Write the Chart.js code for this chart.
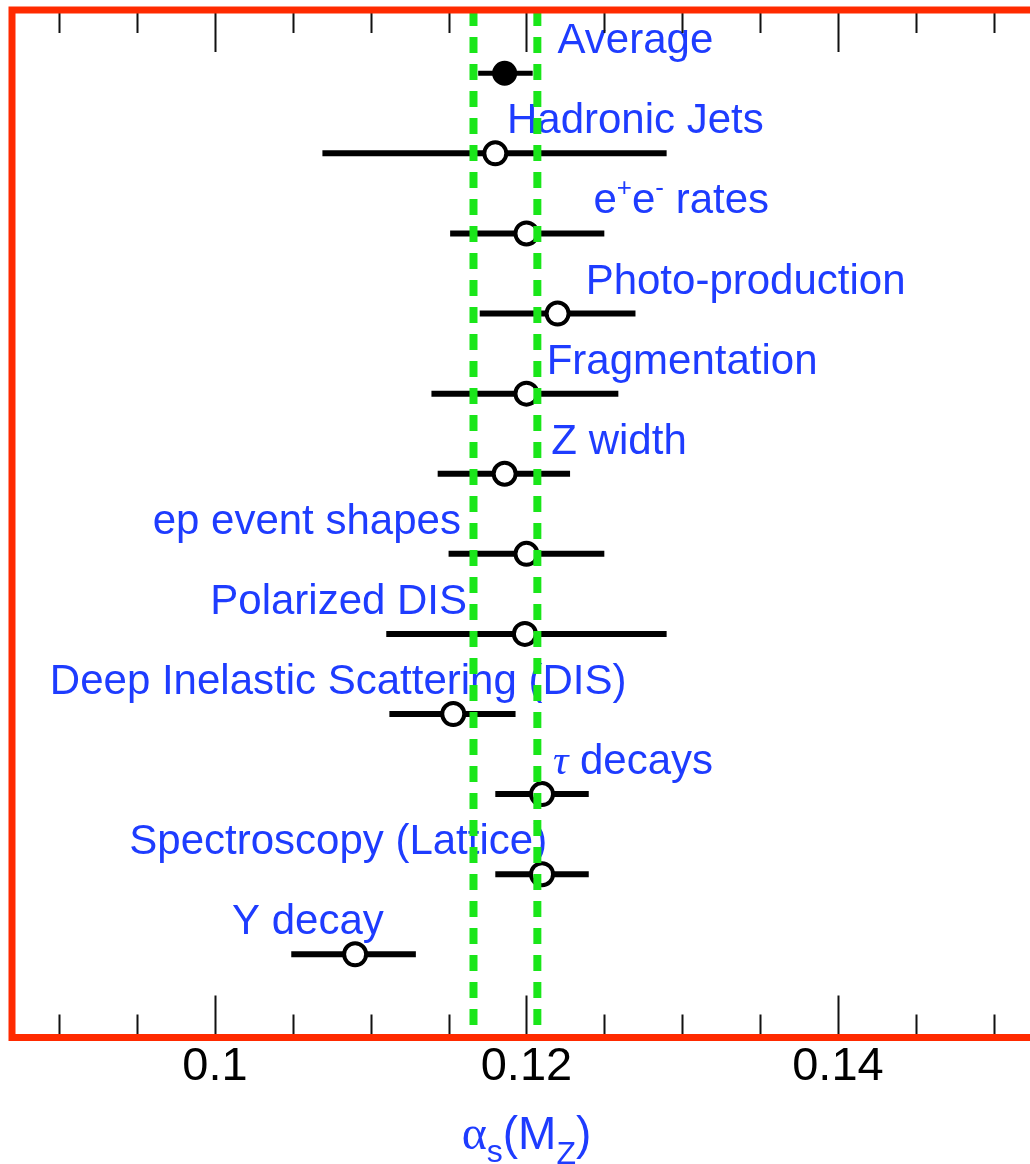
<!DOCTYPE html>
<html>
<head>
<meta charset="utf-8">
<script src="https://cdn.jsdelivr.net/npm/chart.js@4.4.0/dist/chart.umd.min.js"></script>
<style>
  html, body { margin: 0; padding: 0; background: #fff; overflow: hidden; }
</style>
</head>
<body>
<canvas id="chart" width="1030" height="1164"></canvas>
<script>
// measurements, top row first
const names = ["Average", "Hadronic Jets", "e+e- rates", "Photo-production", "Fragmentation", "Z width",
  "ep event shapes", "Polarized DIS", "Deep Inelastic Scattering (DIS)", "τ decays", "Spectroscopy (Lattice)", "Υ decay"];
const centers = [0.1186, 0.1180, 0.1200, 0.1220, 0.1200, 0.1186, 0.1200, 0.1199, 0.1153, 0.1210, 0.1210, 0.1090];
const lows    = [0.1169, 0.1069, 0.1151, 0.1170, 0.1139, 0.1143, 0.1150, 0.1110, 0.1112, 0.1180, 0.1180, 0.1049];
const highs   = [0.1204, 0.1290, 0.1250, 0.1270, 0.1259, 0.1228, 0.1250, 0.1290, 0.1193, 0.1240, 0.1240, 0.1129];
// where each name starts (in alpha_s units)
const labelX  = [0.1220, 0.11875, 0.1243, 0.1238, 0.1213, 0.1216, 0.0960, 0.0997, 0.0894, 0.1217, 0.0945, 0.1011];

const bandEdges = [0.1166, 0.1207]; // green dashed band
const tickLabels = [0.1, 0.12, 0.14];
const X_MIN = 0.08697, X_MAX = 0.15233;
const Y_MIN = 0.21, Y_MAX = 13.04;

const SANS = '"Liberation Sans", Arial, Helvetica, sans-serif';
const SERIF = '"Liberation Serif", "DejaVu Serif", serif';
const BLUE = '#1e3cff';
const RED = '#ff2a00';
const GREEN = '#1ae61a';

// draw a run of text pieces (for super/subscripts)
function drawParts(ctx, parts, x, y, align) {
  let total = 0;
  parts.forEach(p => { ctx.font = p.font; p.w = ctx.measureText(p.t).width; total += p.w; });
  let cx = align === "center" ? x - total / 2 : x;
  parts.forEach(p => {
    ctx.font = p.font;
    ctx.fillText(p.t, cx, y + (p.dy || 0));
    cx += p.w;
  });
}

function labelParts(name) {
  const big = `42px ${SANS}`, small = `26px ${SANS}`;
  if (name.startsWith("e+e-")) {
    return [{t: "e", font: big}, {t: "+", font: small, dy: -17}, {t: "e", font: big},
      {t: "-", font: small, dy: -17}, {t: name.slice(4), font: big}];
  }
  if (name.startsWith("τ")) {
    return [{t: "τ", font: `italic 43px ${SERIF}`}, {t: name.slice(1), font: big}];
  }
  return [{t: name, font: big}];
}

const decorations = {
  id: "decorations",
  beforeDatasetsDraw(chart) {
    const {ctx, scales: {x, y}} = chart;
    ctx.save();
    // error bars
    ctx.strokeStyle = "#000";
    ctx.lineCap = "butt";
    names.forEach((n, i) => {
      const py = y.getPixelForValue(i + 1);
      ctx.lineWidth = i === 0 ? 5 : 6;
      ctx.beginPath();
      ctx.moveTo(x.getPixelForValue(lows[i]), py);
      ctx.lineTo(x.getPixelForValue(highs[i]), py);
      ctx.stroke();
    });
    // names
    ctx.fillStyle = BLUE;
    ctx.textBaseline = "alphabetic";
    names.forEach((n, i) => {
      drawParts(ctx, labelParts(n), x.getPixelForValue(labelX[i]), y.getPixelForValue(i + 1) - 20, "left");
    });
    ctx.restore();
  },
  afterDraw(chart) {
    const {ctx, chartArea: a, scales: {x}} = chart;
    ctx.save();
    // tick marks, inside the frame, top and bottom
    ctx.strokeStyle = "#111";
    ctx.lineWidth = 2;
    for (let k = 0; k <= 12; k++) {
      const v = 0.09 + k * 0.005;
      const major = tickLabels.some(t => Math.abs(t - v) < 1e-9);
      const len = major ? 42 : 23;
      const px = Math.round(x.getPixelForValue(v)) + 0.5;
      ctx.beginPath();
      ctx.moveTo(px, a.top); ctx.lineTo(px, a.top + len);
      ctx.moveTo(px, a.bottom); ctx.lineTo(px, a.bottom - len);
      ctx.stroke();
    }
    // red frame (right side runs off the picture)
    ctx.strokeStyle = RED;
    ctx.lineWidth = 7;
    ctx.lineJoin = "miter";
    ctx.beginPath();
    ctx.moveTo(a.right + 20, a.top);
    ctx.lineTo(a.left, a.top);
    ctx.lineTo(a.left, a.bottom);
    ctx.lineTo(a.right + 20, a.bottom);
    ctx.stroke();
    // axis title alpha_s(M_Z)
    ctx.fillStyle = BLUE;
    ctx.textBaseline = "alphabetic";
    const title = [
      {t: "α", font: `48px ${SERIF}`},
      {t: "s", font: `32px ${SANS}`, dy: 13},
      {t: "(M", font: `46px ${SANS}`},
      {t: "Z", font: `32px ${SANS}`, dy: 15},
      {t: ")", font: `46px ${SANS}`}
    ];
    drawParts(ctx, title, x.getPixelForValue(0.12), a.bottom + 111, "center");
    ctx.restore();
  }
};

const bandSets = bandEdges.map(v => ({
  type: "scatter",
  showLine: true,
  data: [{x: v, y: Y_MIN}, {x: v, y: Y_MAX}],
  borderColor: GREEN,
  borderWidth: 8,
  borderDash: [16, 11],
  pointRadius: 0,
  order: 0
}));

new Chart(document.getElementById("chart"), {
  type: "scatter",
  data: {
    datasets: [
      {
        data: centers.map((c, i) => ({x: c, y: i + 1})),
        pointRadius: ctx => ctx.dataIndex === 0 ? 10.5 : 11,
        pointBorderWidth: 4,
        pointBorderColor: "#000",
        pointBackgroundColor: ctx => ctx.dataIndex === 0 ? "#000" : "#fff",
        order: 1
      },
      ...bandSets
    ]
  },
  options: {
    responsive: false,
    animation: false,
    events: [],
    layout: {autoPadding: false, padding: {left: 12, top: 10, right: 0, bottom: 68}},
    plugins: {legend: {display: false}, tooltip: {enabled: false}},
    scales: {
      x: {
        type: "linear",
        min: X_MIN,
        max: X_MAX,
        afterBuildTicks: axis => { axis.ticks = tickLabels.map(v => ({value: v})); },
        grid: {display: false, drawTicks: false},
        border: {display: false},
        ticks: {
          color: "#000",
          font: {family: SANS, size: 47},
          padding: 1,
          maxRotation: 0,
          autoSkip: false,
          callback: v => String(v)
        }
      },
      y: {
        type: "linear",
        reverse: true,
        min: Y_MIN,
        max: Y_MAX,
        display: false
      }
    }
  },
  plugins: [decorations]
});
</script>
</body>
</html>
